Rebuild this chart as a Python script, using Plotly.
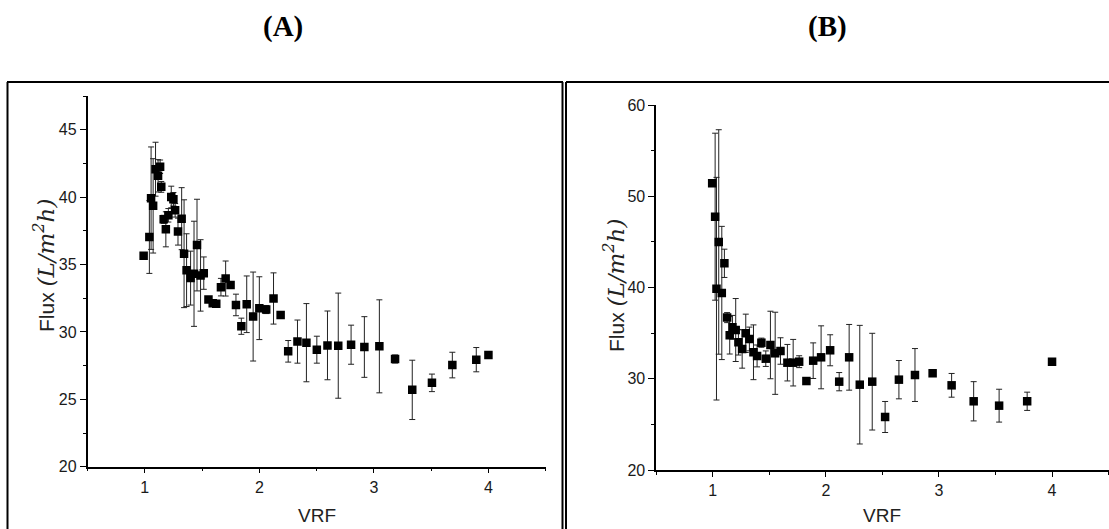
import plotly.graph_objects as go

W, H = 1109, 529

# ---------------- data ----------------
vrf_a = [0.99, 1.04, 1.055, 1.073, 1.094, 1.116, 1.134, 1.144, 1.165, 1.184, 1.206, 1.231, 1.25,
         1.265, 1.29, 1.322, 1.343, 1.365, 1.40, 1.43, 1.456, 1.487, 1.515, 1.556, 1.593, 1.624,
         1.665, 1.706, 1.749, 1.796, 1.843, 1.89, 1.946, 2.0, 2.06, 2.124, 2.186, 2.252, 2.333,
         2.411, 2.502, 2.595, 2.689, 2.801, 2.917, 3.048, 3.185, 3.335, 3.507, 3.685, 3.894, 4.0]
flux_a = [35.65, 37.04, 39.92, 39.35, 42.07, 41.58, 42.25, 40.76, 38.35, 37.61, 38.65, 40.01, 39.84,
          39.02, 37.44, 38.4, 35.8, 34.58, 33.99, 34.31, 36.44, 34.19, 34.36, 32.4, 32.13, 32.08,
          33.32, 33.96, 33.47, 32.0, 30.42, 32.05, 31.14, 31.76, 31.66, 32.48, 31.26, 28.56, 29.28,
          29.2, 28.68, 29.0, 28.98, 29.05, 28.88, 28.93, 27.99, 25.7, 26.22, 27.54, 27.94, 28.28]
err_a = [0, 2.7, 3.8, 3.5, 2.0, 1.2, 0.5, 0.4, 0.3, 1.3, 0.5, 0.8, 0.5,
         0.5, 1.0, 2.3, 4.0, 2.7, 2.0, 3.9, 3.4, 2.65, 1.2, 0, 0, 0,
         0.65, 1.3, 0, 0.8, 0.6, 2.1, 3.3, 2.33, 0.3, 1.9, 0, 0.8, 1.6,
         2.9, 1.0, 2.55, 3.9, 1.45, 2.25, 3.45, 0.3, 2.2, 0.65, 0.95, 0.9, 0]

vrf_b = [0.995, 1.021, 1.033, 1.053, 1.08, 1.103, 1.127, 1.15, 1.174, 1.203, 1.227, 1.26, 1.292,
         1.324, 1.36, 1.392, 1.43, 1.469, 1.51, 1.552, 1.599, 1.66, 1.711, 1.764, 1.828, 1.888,
         1.958, 2.038, 2.118, 2.206, 2.30, 2.41, 2.524, 2.646, 2.788, 2.944, 3.112, 3.307, 3.532,
         3.78, 4.0]
flux_b = [51.42, 47.76, 39.87, 44.99, 39.4, 42.65, 36.7, 34.76, 35.64, 35.34, 34.0, 33.26, 34.98,
          34.36, 32.9, 32.5, 33.95, 32.2, 33.7, 32.79, 33.04, 31.76, 31.76, 31.87, 29.75, 31.98,
          32.35, 33.12, 29.68, 32.35, 29.35, 29.68, 25.81, 29.9, 30.41, 30.6, 29.28, 27.53, 27.05,
          27.53, 31.87]
err_b = [0, 9.15, 12.2, 12.3, 7.3, 1.55, 0.55, 2.05, 1.3, 3.45, 1.4, 2.1, 2.1,
         1.3, 3.0, 1.2, 0.5, 0.85, 3.7, 4.5, 1.45, 2.0, 2.55, 0.65, 0, 1.95,
         3.45, 1.7, 1.0, 3.6, 6.5, 5.3, 1.7, 2.1, 2.9, 0.3, 1.3, 2.15, 1.8,
         1.0, 0]

panel_titles = ["(A)", "(B)"]
x_ticks = [1, 2, 3, 4]
y_ticks_a = [20, 25, 30, 35, 40, 45]
y_ticks_b = [20, 30, 40, 50, 60]

# ---------------- helpers ----------------
def px(x):
    return x / W

def py(y):
    return 1 - y / H

TICKFONT = dict(family="Liberation Sans", size=16, color="#1a1a1a")


def add_series(fig, x, y, e, xa, ya):
    fig.add_trace(go.Scatter(
        x=x, y=y, mode="markers", xaxis=xa, yaxis=ya,
        marker=dict(symbol="square", size=8.5, color="black", line=dict(width=0)),
        error_y=dict(type="data", array=e, visible=True, color="#222", thickness=1, width=3),
        showlegend=False, hoverinfo="skip"))


fig = go.Figure()
add_series(fig, vrf_a, flux_a, err_a, "x", "y")
add_series(fig, vrf_b, flux_b, err_b, "x2", "y2")


def xaxis(domain, anchor):
    return dict(domain=domain, anchor=anchor, range=[0.5, 4.5], tickvals=x_ticks,
                showline=True, linecolor="black", linewidth=1.5, ticks="outside",
                ticklen=5, tickwidth=1.3, tickcolor="black", showgrid=False, zeroline=False,
                tickfont=TICKFONT, automargin=False,
                minor=dict(dtick=0.5, tick0=0.5, ticks="outside", ticklen=3,
                           tickwidth=1.3, tickcolor="black", showgrid=False))


def yaxis(domain, anchor, rng, tv, mdt):
    return dict(domain=domain, anchor=anchor, range=rng, tickvals=tv,
                showline=True, linecolor="black", linewidth=1.5, ticks="outside",
                ticklen=6, tickwidth=1.3, tickcolor="black", showgrid=False, zeroline=False,
                tickfont=TICKFONT, automargin=False,
                minor=dict(dtick=mdt, tick0=20, ticks="outside", ticklen=3,
                           tickwidth=1.3, tickcolor="black", showgrid=False))


fig.update_layout(
    width=W, height=H, autosize=False,
    margin=dict(l=0, r=0, t=0, b=0, pad=0),
    paper_bgcolor="white", plot_bgcolor="white",
    xaxis=xaxis([px(87.5), px(545.7)], "y"),
    yaxis=yaxis([py(466.7), py(96)], "x", [20, 47.5], y_ticks_a, 2.5),
    xaxis2=xaxis([px(656.2), px(1108.6)], "y2"),
    yaxis2=yaxis([py(470), py(105)], "x2", [20, 60], y_ticks_b, 5),
)

# panel titles
for t, cx in zip(panel_titles, [283, 827]):
    fig.add_annotation(text="<b>%s</b>" % t, x=px(cx), y=py(26), xref="paper", yref="paper",
                       showarrow=False, xanchor="center", yanchor="middle",
                       font=dict(family="Liberation Serif", size=29, color="black"))

# axis titles
ytitle = ("Flux <span style='font-family:DejaVu Serif;font-style:italic;font-size:23px'>"
          "(L/m<sup>2</sup>h)</span>")
for cx, cy in [(44, 266), (614, 286)]:
    fig.add_annotation(text=ytitle, x=px(cx), y=py(cy), xref="paper", yref="paper",
                       showarrow=False, textangle=-90, xanchor="center", yanchor="middle",
                       font=dict(family="Liberation Sans", size=21, color="#222"))
for cx in [316.7, 882]:
    fig.add_annotation(text="VRF", x=px(cx), y=py(515), xref="paper", yref="paper",
                       showarrow=False, xanchor="center", yanchor="middle",
                       font=dict(family="Liberation Sans", size=19, color="#222"))

# frames around panels
frame = dict(color="black", width=2)
lines = [
    (7.5, 82, 7.5, 540),      # A left
    (7, 82, 563, 82),         # A top
    (562.5, 82, 562.5, 540),  # A right
    (566, 82, 566, 540),      # B left
    (566, 82, 1115, 82),      # B top
]
for x0, y0, x1, y1 in lines:
    fig.add_shape(type="line", xref="paper", yref="paper",
                  x0=px(x0), y0=py(y0), x1=px(x1), y1=py(y1), line=frame)

fig.write_html("out.html")
